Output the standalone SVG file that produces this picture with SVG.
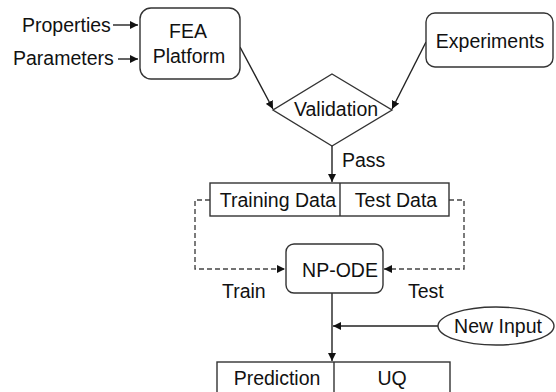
<svg xmlns="http://www.w3.org/2000/svg" width="556" height="392" viewBox="0 0 556 392">
  <style>
    .box { fill: #fff; stroke: #333; stroke-width: 1.4; }
    .lbl { font-family: "Liberation Sans", Arial, sans-serif; font-size: 19.5px; fill: #111; }
    .mid { text-anchor: middle; }
    .edge { fill: none; stroke: #222; stroke-width: 1.4; }
    .dash { fill: none; stroke: #444; stroke-width: 1.4; stroke-dasharray: 5 3; }
  </style>
  <defs>
    <marker id="arrow" viewBox="0 0 10 10" refX="10" refY="5" markerWidth="8" markerHeight="8" markerUnits="userSpaceOnUse" orient="auto">
      <path d="M0,0 L10,5 L0,10 Z" fill="#111"/>
    </marker>
  </defs>
  <rect width="556" height="392" fill="#fff"/>

  <g id="connectors">
    <line class="edge" x1="113" y1="25" x2="138" y2="25" marker-end="url(#arrow)"/>
    <line class="edge" x1="118" y1="59" x2="138" y2="59" marker-end="url(#arrow)"/>
    <line class="edge" x1="240" y1="47" x2="273" y2="109" marker-end="url(#arrow)"/>
    <line class="edge" x1="426" y1="42" x2="392" y2="109" marker-end="url(#arrow)"/>
    <line class="edge" x1="332" y1="146" x2="332" y2="182" marker-end="url(#arrow)"/>
    <polyline class="dash" points="210,200 195,200 195,269 285,269" marker-end="url(#arrow)"/>
    <polyline class="dash" points="449,200 464,200 464,269 384,269" marker-end="url(#arrow)"/>
    <line class="edge" x1="332" y1="293" x2="332" y2="361" marker-end="url(#arrow)"/>
    <line class="edge" x1="438" y1="326" x2="333" y2="326" marker-end="url(#arrow)"/>
  </g>

  <g id="inputs">
    <text class="lbl" x="22" y="32">Properties</text>
    <text class="lbl" x="13" y="65">Parameters</text>
  </g>

  <g id="fea">
    <rect class="box" x="140" y="8" width="100" height="71" rx="11"/>
    <text class="lbl mid" x="188" y="38">FEA</text>
    <text class="lbl mid" x="189" y="63">Platform</text>
  </g>

  <g id="experiments">
    <rect class="box" x="426" y="13" width="127" height="54" rx="9"/>
    <text class="lbl mid" x="490" y="48">Experiments</text>
  </g>

  <g id="validation">
    <polygon class="box" points="332,74 392,110 332,146 273,110"/>
    <text class="lbl mid" x="336" y="116">Validation</text>
  </g>

  <g id="pass">
    <text class="lbl" x="342" y="167">Pass</text>
  </g>

  <g id="data">
    <rect class="box" x="210" y="183" width="239" height="33"/>
    <line class="box" x1="340" y1="183" x2="340" y2="216"/>
    <text class="lbl mid" x="278" y="207">Training Data</text>
    <text class="lbl mid" x="396" y="207">Test Data</text>
  </g>

  <g id="npode">
    <rect class="box" x="286" y="244" width="97" height="49" rx="8"/>
    <text class="lbl mid" x="340" y="277">NP-ODE</text>
  </g>

  <g id="phases">
    <text class="lbl" x="222" y="298">Train</text>
    <text class="lbl" x="408" y="298">Test</text>
  </g>

  <g id="newinput">
    <ellipse class="box" cx="496" cy="326" rx="58" ry="19"/>
    <text class="lbl mid" x="498" y="333">New Input</text>
  </g>

  <g id="output">
    <rect class="box" x="217" y="362" width="233" height="40"/>
    <line class="box" x1="334" y1="362" x2="334" y2="392"/>
    <text class="lbl mid" x="277" y="385">Prediction</text>
    <text class="lbl mid" x="392" y="385">UQ</text>
  </g>
</svg>
